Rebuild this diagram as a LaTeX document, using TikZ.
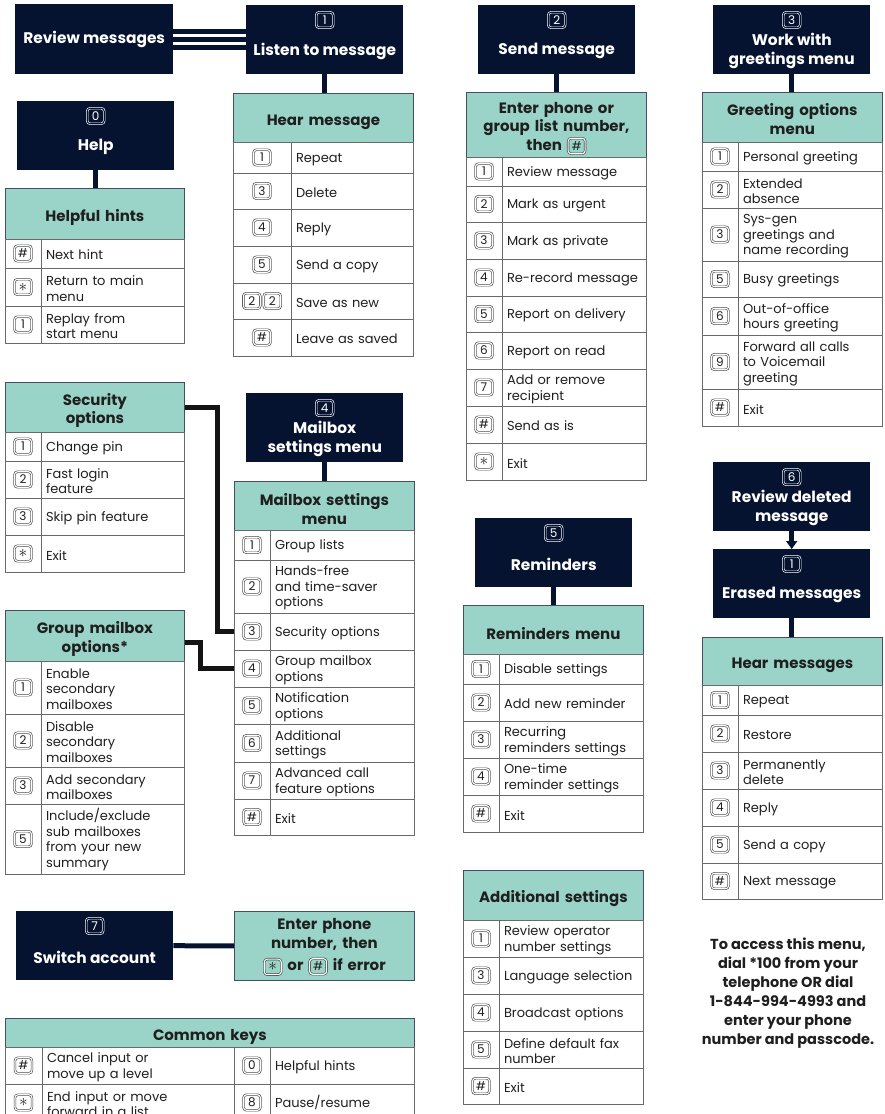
\documentclass[tikz,border=0pt]{standalone}
\usepackage{fontspec}
\setmainfont{Poppins}
\usetikzlibrary{arrows.meta}

\definecolor{navy}{HTML}{061330}
\definecolor{mint}{HTML}{9AD4C8}
\definecolor{ink}{HTML}{1F1F1F}
\definecolor{rule}{HTML}{6A6A6A}
\definecolor{keyline}{HTML}{4A4A4A}

\newcommand{\cellfont}{\fontsize{13}{15.5}\selectfont}
\newcommand{\hdfont}{\bfseries\fontsize{15}{18.5}\selectfont}
\newcommand{\ttlfont}{\bfseries\fontsize{15.4}{19}\selectfont}
\newcommand{\notefont}{\bfseries\fontsize{14.5}{19}\selectfont}
\newcommand{\keyfont}{\normalfont\fontsize{12}{12}\selectfont}
\newcommand{\kstar}{{\fontsize{17}{17}\selectfont$\ast$}}

\makeatletter
\tikzset{nostrut/.code={\let\tikz@atbegin@node\pgfutil@empty}}
\makeatother

\tikzset{
  darkbox/.style={fill=navy, inner sep=0pt, anchor=north west, minimum width=157, minimum height=69},
  boxtitle/.style={text=white, font=\ttlfont, align=center},
  headbox/.style={fill=mint, draw=navy!75, line width=0.8pt, anchor=north west, inner sep=0pt, font=\hdfont,
    text=ink, text width=170pt, align=center, execute at begin node={\rule{0pt}{18.5pt}}},
  kcell/.style={draw=rule, line width=0.8pt, inner sep=0pt},
  tcell/.style={draw=rule, line width=0.8pt, inner xsep=5pt, inner ysep=0pt, align=left, font=\cellfont,
    text=ink, execute at begin node={\rule{0pt}{13pt}}},
  keycap/.style={draw=keyline, double=white, double distance=1.1pt, line width=0.65pt, rounded corners=3pt,
    fill=none, anchor=center, text width=, align=center, nostrut,
    minimum width=17pt, minimum height=15.5pt, inner sep=0pt, font=\keyfont, text=ink},
  keyd/.style={keycap, draw=white, double=navy, text=white},
  stem/.style={draw=navy, line width=5pt},
  wire/.style={draw=navy, line width=5pt},
  bus/.style={draw=black!92, line width=5pt},
  notetext/.style={font=\notefont, text=ink, align=center}
}

% key cap inside a line of text
\newcommand{\kc}[1]{\tikz[baseline=(kc.base)]\node[keycap](kc){#1};}

% dark menu box: name, x, y, key, title
\newcommand{\menubox}[5]{%
  \node[darkbox] (#1) at (#2,#3) {};
  \node[keyd] (#1-k) at ([yshift=-15pt]#1.north) {#4};
  \node[boxtitle] (#1-t) at ([yshift=-46pt]#1.north) {#5};}

% table rows: name, x left, x key column, x right, rows key/text/top/bottom
\newcommand{\menurows}[5]{%
  \pgfmathsetmacro\keyw{#3-#2}%
  \pgfmathsetmacro\txtw{#4-#3}%
  \pgfmathsetmacro\txtin{#4-#3-10}%
  \foreach \k/\t/\ya/\yb [count=\i] in {#5}{%
    \node[kcell, minimum width=\keyw, minimum height=\yb-\ya] (#1-k\i) at ({(#2+#3)/2},{(\ya+\yb)/2}) {\k};
    \node[tcell, minimum width=\txtw, text width=\txtin pt, minimum height=\yb-\ya] (#1-t\i) at ({(#3+#4)/2},{(\ya+\yb)/2}) {\t};
  }}

\begin{document}
\begin{tikzpicture}[x=1pt,y=-1pt]
\useasboundingbox (0,0) rectangle (885,1114);
\clip (0,0) rectangle (885,1114);

%Menuboxen
\node[darkbox, minimum width=158, minimum height=70] (review) at (15,4) {};
\node[boxtitle] (review-t) at (review.center) {Review messages};
\menubox{listen}{246}{5}{1}{Listen to message}
\menubox{help}{17}{101}{0}{Help}
\menubox{send}{478}{5}{2}{Send message}
\menubox{greet}{713}{5}{3}{Work with\\greetings menu}
\menubox{mailbox}{246}{393}{4}{Mailbox\\settings menu}
\menubox{remind}{475}{518}{5}{Reminders}
\menubox{revdel}{713}{462}{6}{Review deleted\\message}
\menubox{erased}{713}{549}{1}{Erased messages}
\menubox{switch}{16}{911}{7}{Switch account}

%Tabellen
\node[headbox, minimum width=179, minimum height=51] (hh) at (5,188) {Helpful hints};
\menurows{hh}{5}{41}{184}{\kc\#/Next hint/239/268, \kc\kstar/{Return to main\\menu}/268/306,
  \kc1/{Replay from\\start menu}/306/343}

\node[headbox, minimum width=180, minimum height=49] (hm) at (233,93) {Hear message};
\menurows{hm}{233}{291}{413}{\kc1/Repeat/142/173, \kc3/Delete/173/209, \kc4/Reply/209/246,
  \kc5/Send a copy/246/283, {\kc2\hspace{1pt}\kc2}/Save as new/283/319, \kc\#/Leave as saved/319/356}

\node[headbox, minimum width=180, minimum height=65] (sm) at (466,92)
  {Enter phone or\\group list number,\\then \kc\#};
\menurows{sm}{466}{502}{646}{\kc1/Review message/157/186, \kc2/Mark as urgent/186/222,
  \kc3/Mark as private/222/259, \kc4/Re-record message/259/296, \kc5/Report on delivery/296/332,
  \kc6/Report on read/332/369, \kc7/{Add or remove\\recipient}/369/406, \kc\#/Send as is/406/443,
  \kc\kstar/Exit/443/480}

\node[headbox, minimum width=180, minimum height=50, nostrut, execute at begin node={\rule{0pt}{15pt}}] (go) at (702,92) {Greeting options\\menu};
\menurows{go}{702}{738}{882}{\kc1/Personal greeting/142/171, \kc2/{Extended\\absence}/171/208,
  \kc3/{Sys-gen\\greetings and\\name recording}/208/261, \kc5/Busy greetings/261/297,
  \kc6/{Out-of-office\\hours greeting}/297/335, \kc9/{Forward all calls\\to Voicemail\\greeting}/335/389,
  \kc\#/Exit/389/426}

\node[headbox, minimum width=179, minimum height=50] (so) at (5,382) {Security\\options};
\menurows{so}{5}{41}{184}{\kc1/Change pin/432/461, \kc2/{Fast login\\feature}/461/498,
  \kc3/Skip pin feature/498/535, \kc\kstar/Exit/535/572}

\node[headbox, minimum width=180, minimum height=49] (ms) at (234,481) {Mailbox settings\\menu};
\menurows{ms}{234}{270}{414}{\kc1/Group lists/530/560, \kc2/{Hands-free\\and time-saver\\options}/560/613,
  \kc3/Security options/613/650, \kc4/{Group mailbox\\options}/650/687, \kc5/{Notification\\options}/687/724,
  \kc6/{Additional\\settings}/724/762, \kc7/{Advanced call\\feature options}/762/799, \kc\#/Exit/799/835}

\node[headbox, minimum width=179, minimum height=51] (gm) at (5,610) {Group mailbox\\options*};
\menurows{gm}{5}{41}{184}{\kc1/{Enable\\secondary\\mailboxes}/661/714, \kc2/{Disable\\secondary\\mailboxes}/714/767,
  \kc3/{Add secondary\\mailboxes}/767/804, \kc5/{Include/exclude\\sub mailboxes\\from your new\\summary}/804/874}

\node[headbox, minimum width=180, minimum height=49] (rm) at (463,605) {Reminders menu};
\menurows{rm}{463}{499}{643}{\kc1/Disable settings/654/684, \kc2/Add new reminder/684/721,
  \kc3/{Recurring\\reminders settings}/721/758, \kc4/{One-time\\reminder settings}/758/795, \kc\#/Exit/795/832}

\node[headbox, minimum width=180, minimum height=50] (as) at (463,870) {Additional settings};
\menurows{as}{463}{499}{643}{\kc1/{Review operator\\number settings}/920/957, \kc3/Language selection/957/994,
  \kc4/Broadcast options/994/1031, \kc5/{Define default fax\\number}/1031/1068, \kc\#/Exit/1068/1104}

\node[headbox, minimum width=180, minimum height=48] (hs) at (702,637) {Hear messages};
\menurows{hs}{702}{738}{882}{\kc1/Repeat/685/715, \kc2/Restore/715/752, \kc3/{Permanently\\delete}/752/789,
  \kc4/Reply/789/826, \kc5/Send a copy/826/863, \kc\#/Next message/863/899}

\node[headbox, minimum width=180, minimum height=69, nostrut, execute at begin node={\rule{0pt}{14pt}}] (enter) at (234,911)
  {Enter phone\\number, then\\[4pt]\kc\kstar{} or \kc\# if error};

\node[headbox, minimum width=409, minimum height=29, text width=399pt] (ck) at (5,1018) {Common keys};
\menurows{ckl}{5}{42}{234}{\kc\#/{Cancel input or\\move up a level}/1047/1084,
  \kc\kstar/{End input or move\\forward in a list}/1084/1121}
\menurows{ckr}{234}{270}{414}{\kc0/Helpful hints/1047/1084, \kc8/{Pause/resume}/1084/1121}

\node[notetext] (note) at (788,993.5) {To access this menu,\\dial *100 from your\\telephone OR dial\\1-844-994-4993 and\\enter your phone\\number and passcode.};

%Verbindungen
\foreach \dy in {-8,0,8}
  \draw[wire] ([yshift=\dy pt]review.east) -- ([yshift=\dy pt]review.east -| listen.west);
\draw[stem] (listen.south) -- (listen.south |- hm.north);
\draw[stem] (help.south) -- (help.south |- hh.north);
\draw[stem] (send.south) -- (send.south |- sm.north);
\draw[stem] (greet.south) -- (greet.south |- go.north);
\draw[stem] (mailbox.south) -- (mailbox.south |- ms.north);
\draw[stem] (remind.south) -- (remind.south |- rm.north);
\draw[stem] (erased.south) -- (erased.south |- hs.north);
\draw[stem, -{Triangle[length=8pt,width=11pt]}] (revdel.south) -- (erased.north);
\draw[stem] (switch.east) -- (enter.west);

\draw[bus] (so.east) -| ([xshift=-16pt]ms-k3.west) -- (ms-k3.west);
\draw[bus] ([yshift=-7pt]gm.east) -| ([xshift=-33pt]ms-k4.west) -- (ms-k4.west);

\end{tikzpicture}
\end{document}
